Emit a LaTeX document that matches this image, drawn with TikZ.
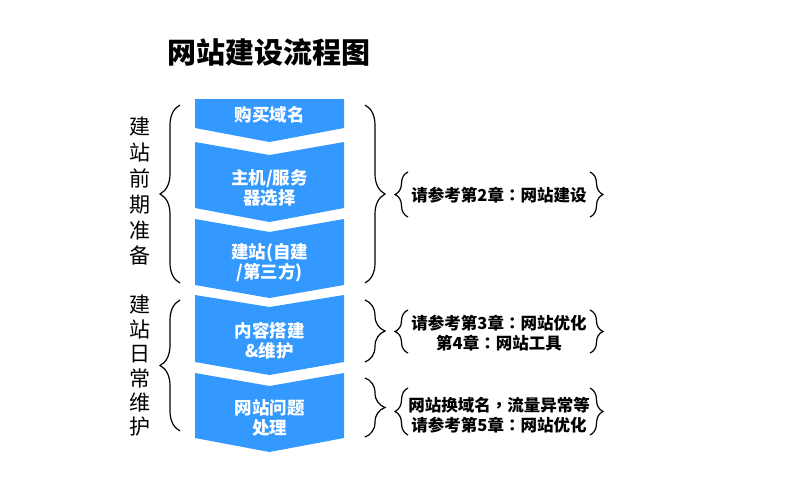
\documentclass[tikz,border=0pt]{standalone}
\usepackage{fontspec}
\setmainfont{Noto Sans CJK SC}
\newfontfamily\punctfont{Noto Sans CJK TC}
\newcommand{\colonmark}{{\punctfont ：}}
\newcommand{\commamark}{{\punctfont ，}}
\usetikzlibrary{decorations.pathreplacing}
\definecolor{stepblue}{RGB}{51,153,255}

\tikzset{
  stepshape/.style={fill=stepblue, draw=none},
  steptext/.style={text=white, font=\bfseries\fontsize{17.5}{20}\selectfont, align=center, inner sep=0pt},
  notetext/.style={font=\bfseries\fontsize{16.5}{20}\selectfont, align=center, inner sep=0pt},
  sidetext/.style={font=\fontsize{21}{25.8}\selectfont, align=center, inner sep=0pt},
  bigbrace/.style={decorate, decoration={brace, amplitude=20pt}, line width=1.2pt},
  smallbrace/.style={decorate, decoration={brace, amplitude=13pt}, line width=1.2pt},
}

\begin{document}
\begin{tikzpicture}[x=1pt,y=-1pt]
\useasboundingbox (0,0) rectangle (789,496);

% Title
\node (title) [font=\bfseries\fontsize{29}{32}\selectfont, inner sep=0pt] at (268.5,52) {网站建设流程图};

%Shape: Chevron 1
\path [stepshape] (195,99) -- (344,99) -- (344,128) -- (269.5,142) -- (195,128) -- cycle;
%Shape: Chevron 2
\path [stepshape] (195,142) -- (269.5,155) -- (344,142) -- (344,208) -- (269.5,222) -- (195,208) -- cycle;
%Shape: Chevron 3
\path [stepshape] (195,219) -- (269.5,232) -- (344,219) -- (344,285) -- (269.5,298) -- (195,285) -- cycle;
%Shape: Chevron 4
\path [stepshape] (195,295) -- (269.5,307) -- (344,295) -- (344,362) -- (269.5,375) -- (195,362) -- cycle;
%Shape: Chevron 5
\path [stepshape] (195,373) -- (269.5,386) -- (344,373) -- (344,438) -- (269.5,452) -- (195,438) -- cycle;

% Step texts
\node (domain) [steptext] at (269.5,115) {购买域名};
\node (host) [steptext] at (269.5,188) {主机/服务\\器选择};
\node (build) [steptext] at (269.5,262.5) {建站(自建\\/第三方)};
\node (content) [steptext] at (269.5,341) {内容搭建\\\&维护};
\node (issue) [steptext] at (269.5,417.5) {网站问题\\处理};

% Phase labels
\node (prep) [sidetext] at (140,191.5) {建\\站\\前\\期\\准\\备};
\node (daily) [sidetext, font=\fontsize{21}{24.4}\selectfont] at (140,366) {建\\站\\日\\常\\维\\护};

%Left braces
\draw [bigbrace] (180,283) -- (180,105);
\draw [bigbrace] (180,431) -- (180,300);
%Right braces
\draw [bigbrace] (365,105) -- (365,283);
\draw [bigbrace] (365,300) -- (365,362);
\draw [bigbrace] (365,378) -- (365,437);

% Note texts
\node (noteA) [notetext] at (499,195) {请参考第2章\colonmark 网站建设};
\node (noteB) [notetext] at (499,333) {请参考第3章\colonmark 网站优化\\第4章\colonmark 网站工具};
\node (noteC) [notetext] at (499,415) {网站换域名\commamark 流量异常等\\请参考第5章\colonmark 网站优化};

%Small braces
\draw [smallbrace] (408,217) -- (408,172);
\draw [smallbrace] (590,172) -- (590,217);
\draw [smallbrace] (408,353) -- (408,310);
\draw [smallbrace] (590,310) -- (590,353);
\draw [smallbrace] (408,435) -- (408,388);
\draw [smallbrace] (590,388) -- (590,435);

\end{tikzpicture}
\end{document}
